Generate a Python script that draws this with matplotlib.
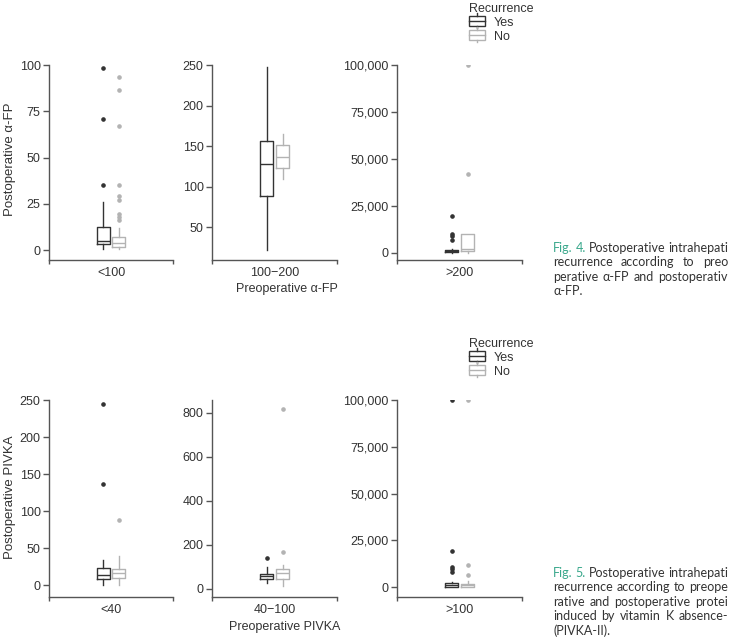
import matplotlib
matplotlib.use("Agg")
import matplotlib.pyplot as plt
from matplotlib.patches import Rectangle
from matplotlib.lines import Line2D
from matplotlib.legend_handler import HandlerBase
from matplotlib.ticker import FuncFormatter

W, H = 731, 638
plt.rcParams.update({"font.family": ["Liberation Sans", "DejaVu Sans"], "font.size": 9,
                     "text.color": "#333333", "axes.edgecolor": "#555555",
                     "xtick.color": "#555555", "ytick.color": "#555555",
                     "xtick.labelcolor": "#333333", "ytick.labelcolor": "#333333"})

# box stats per group: (whislo, q1, med, q3, whishi)
afp_labels = ["<100", "100\u2212200", ">200"]
afp_yes_box = [(0.4, 3.1, 4.9, 12.6, 26), (22, 88, 128, 156, 247), (0, 100, 800, 1600, 2000)]
afp_no_box = [(0.5, 1.8, 3.6, 6.9, 11.7), (109, 123, 137, 151, 165), (0, 750, 2200, 9700, 9700)]
afp_yes_out = [[98.5, 71, 35], [], [19700, 10200, 8800, 7000]]
afp_no_out = [[93.3, 86.5, 67, 35.3, 29.2, 27, 19.3, 18, 16.2], [], [100000, 41800]]

pivka_labels = ["<40", "40\u2212100", ">100"]
pivka_yes_box = [(0, 8.6, 14.4, 23.4, 34.6), (25, 42, 56, 68, 98), (100, 380, 1200, 2300, 3000)]
pivka_no_box = [(1, 10, 16.7, 22.5, 40), (10, 45, 73, 91, 106), (100, 400, 1000, 2000, 3600)]
pivka_yes_out = [[245, 137], [137], [100000, 19300, 10700, 9500, 8100]]
pivka_no_out = [[88], [815, 167], [100000, 11800, 6800]]

YES_C, NO_C = "#333333", "#b3b3b3"
fig = plt.figure(figsize=(W / 100, H / 100), dpi=100)


def px_axes(x0, x1, ytop, ybot):
    return fig.add_axes([x0 / W, 1 - ybot / H, (x1 - x0) / W, (ybot - ytop) / H])


def panel(ax, label, ybox, nbox, yout, nout, ylim, ticks, comma=False):
    for st, out, pos, c in [(ybox, yout, -0.064, YES_C), (nbox, nout, 0.064, NO_C)]:
        s = dict(zip(["whislo", "q1", "med", "q3", "whishi"], st))
        s["fliers"] = out
        ax.bxp([s], positions=[pos], widths=0.104, showcaps=False,
               boxprops=dict(color=c, lw=1), medianprops=dict(color=c, lw=1),
               whiskerprops=dict(color=c, lw=1),
               flierprops=dict(marker="o", markersize=2.3, markerfacecolor=c,
                               markeredgecolor=c))
    ax.set_xlim(-0.5, 0.5)
    ax.set_ylim(*ylim)
    ax.set_yticks(ticks)
    if comma:
        ax.yaxis.set_major_formatter(FuncFormatter(lambda v, p: f"{v:,.0f}"))
    ax.set_xticks([0])
    ax.set_xticklabels([label])
    ax.set_xticks([-0.5, 0.5], minor=True)
    ax.tick_params(axis="x", which="major", length=0, pad=5, labelsize=9)
    ax.tick_params(axis="x", which="minor", length=3, width=1, direction="out")
    ax.tick_params(axis="y", length=4, width=1, pad=2, labelsize=9)
    for sp in ["top", "right"]:
        ax.spines[sp].set_visible(False)
    for sp in ["left", "bottom"]:
        ax.spines[sp].set_linewidth(1)


cols = [(49, 173), (212, 337), (397, 522)]
afp_lims = [(-5.4, 100), (9.3, 250), (-3900, 100000)]
afp_ticks = [[0, 25, 50, 75, 100], [50, 100, 150, 200, 250], [0, 25000, 50000, 75000, 100000]]
pivka_lims = [(-15.6, 250), (-38, 857), (-5200, 100000)]
pivka_ticks = [[0, 50, 100, 150, 200, 250], [0, 200, 400, 600, 800], [0, 25000, 50000, 75000, 100000]]

for i, (x0, x1) in enumerate(cols):
    ax = px_axes(x0, x1, 65, 260)
    panel(ax, afp_labels[i], afp_yes_box[i], afp_no_box[i], afp_yes_out[i], afp_no_out[i],
          afp_lims[i], afp_ticks[i], comma=(i == 2))
    ax = px_axes(x0, x1, 400, 597)
    panel(ax, pivka_labels[i], pivka_yes_box[i], pivka_no_box[i], pivka_yes_out[i], pivka_no_out[i],
          pivka_lims[i], pivka_ticks[i], comma=(i == 2))

fig.text(10 / W, 1 - 159 / H, "Postoperative \u03b1-FP", rotation=90, ha="center", va="center", fontsize=9.5)
fig.text(10 / W, 1 - 497 / H, "Postoperative PIVKA", rotation=90, ha="center", va="center", fontsize=9.5)
fig.text(287 / W, 1 - 289 / H, "Preoperative \u03b1-FP", ha="center", va="center", fontsize=9)
fig.text(285 / W, 1 - 627 / H, "Preoperative PIVKA", ha="center", va="center", fontsize=9)


class BoxHandler(HandlerBase):
    def create_artists(self, legend, orig, xd, yd, w, h, fontsize, trans):
        c = orig.get_color()
        r = Rectangle((xd, yd), w, h, facecolor="white", edgecolor=c, lw=1, transform=trans)
        m = Line2D([xd, xd + w], [yd + h / 2, yd + h / 2], color=c, lw=1, transform=trans)
        t = Line2D([xd + w / 2] * 2, [yd + h, yd + h + 2], color=c, lw=1, transform=trans)
        b = Line2D([xd + w / 2] * 2, [yd - 2, yd], color=c, lw=1, transform=trans)
        return [r, m, t, b]


handles = [Line2D([], [], color=YES_C), Line2D([], [], color=NO_C)]
for ytop in [3, 338]:
    fig.legend(handles, ["Yes", "No"], title="Recurrence", loc="upper left",
               bbox_to_anchor=(469 / W, 1 - ytop / H), frameon=False, fontsize=9,
               title_fontsize=9, handlelength=1.3, handleheight=0.8, labelspacing=0.15,
               borderpad=0, borderaxespad=0, handletextpad=0.7, alignment="left",
               handler_map={Line2D: BoxHandler()})

# captions, justified to the right edge like the cropped page
TEAL = "#3aa88c"
CAP_FONT = ["Lato", "DejaVu Sans"]
cap4 = [["Fig.", "4.", "Postoperative", "intrahepati"], ["recurrence", "according", "to", "preo"],
        ["perative", "\u03b1-FP", "and", "postoperativ"], ["\u03b1-FP."]]
cap5 = [["Fig.", "5.", "Postoperative", "intrahepati"], ["recurrence", "according", "to", "preope"],
        ["rative", "and", "postoperative", "protei"], ["induced", "by", "vitamin", "K", "absence-"],
        ["(PIVKA-II)."]]
renderer = fig.canvas.get_renderer()
for lines, y0 in [(cap4, 248), (cap5, 572.7)]:
    for k, words in enumerate(lines):
        y = 1 - (y0 + k * 14.4) / H
        texts = []
        for j, wd in enumerate(words):
            teal = k == 0 and j < 2
            texts.append(fig.text(0, y, wd, fontsize=9.0, family=CAP_FONT, va="center",
                                  color=TEAL if teal else "#333333"))
        widths = [t.get_window_extent(renderer).width for t in texts]
        if len(words) > 1:
            gap = max(2.0, (728 - 553 - sum(widths)) / (len(words) - 1))
        else:
            gap = 0
        x = 553
        for t, w_ in zip(texts, widths):
            t.set_x(x / W)
            x += w_ + gap

fig.savefig("out.png", dpi=100)
